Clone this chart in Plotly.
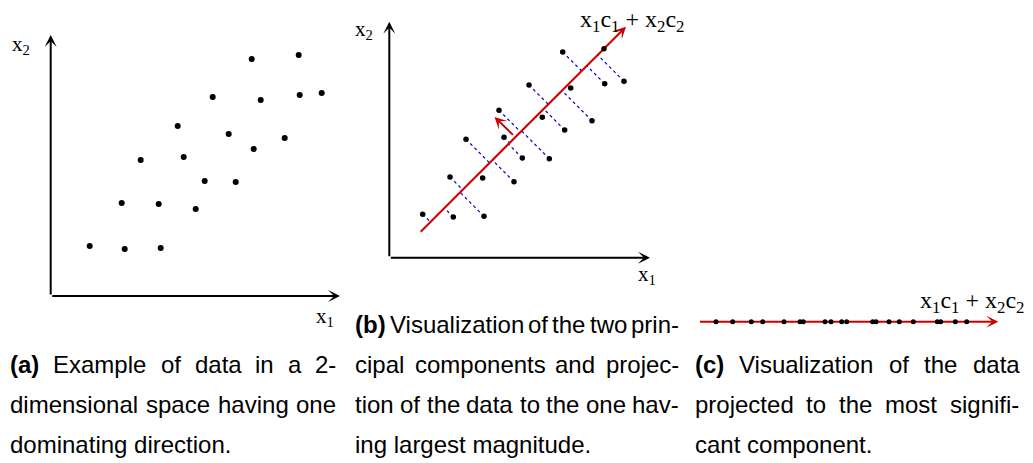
import math
import plotly.graph_objects as go

# ---------------- data ----------------
# Panel (a): 2-D samples (x1, x2), arbitrary units measured from the axes origin
a_x1 = [201, 248, 162, 210, 249, 271, 127, 178, 234, 203, 90, 133, 154, 185, 71, 108, 145, 39, 74, 110]
a_x2 = [237, 241, 199, 196, 201, 203, 170, 162, 158, 147, 136, 139, 115, 114, 93, 92, 87, 50, 47, 48]

# Panel (b): samples with the principal components
b_x1 = [33.4, 64, 94.7, 60.7, 93.4, 124.7, 76.7, 114.7, 133, 160, 109.7, 153, 175.4, 139.7, 181.4, 202.7, 173.4, 214.7, 215.4, 234.7]
b_x2 = [43.4, 40.7, 41.4, 80.7, 79.7, 76, 118.4, 120.4, 99.7, 99, 147.4, 140.4, 127.7, 172.7, 169.7, 137, 205.7, 209, 174, 176.4]
pc1_start = [31.4, 26.0]
pc1_end = [236.7, 231.0]
pc2_start = [125.2, 121.4]
pc2_end = [105.2, 140.7]

# Panel (c): positions along the most significant component
c_t = [16, 32.7, 51.3, 62.7, 84, 100, 103.3, 125, 131, 141.7, 146.7, 172.7, 176, 189, 199.3, 213.3, 237.3, 240.7, 255.3, 266.7]
c_axis_len = 298.3

# captions (lines as typeset; the last line of each is not justified)
caption_a = [["(a)", "Example", "of", "data", "in", "a", "2-"],
             ["dimensional", "space", "having", "one"],
             ["dominating", "direction."]]
caption_b = [["(b)", "Visualization", "of", "the", "two", "prin-"],
             ["cipal", "components", "and", "projec-"],
             ["tion", "of", "the", "data", "to", "the", "one", "hav-"],
             ["ing", "largest", "magnitude."]]
caption_c = [["(c)", "Visualization", "of", "the", "data"],
             ["projected", "to", "the", "most", "signifi-"],
             ["cant", "component."]]

# ---------------- styles ----------------
W, H = 1033, 463
RED = "#cc0000"
BLUE = "#0000cc"
SERIF = "Liberation Serif"
SANS = "Liberation Sans"

# panel origins in page pixels (layout only)
orig_a = (50.7, 296.0)
orig_b = (389.3, 257.7)
orig_c = (700.0, 321.7)

fig = go.Figure()

# ---------- panel (a) ----------
fig.add_trace(go.Scatter(x=a_x1, y=a_x2, mode="markers", xaxis="x", yaxis="y",
                         marker=dict(color="black", size=6), showlegend=False, hoverinfo="skip"))

# ---------- panel (b) ----------
ux = pc1_end[0] - pc1_start[0]
uy = pc1_end[1] - pc1_start[1]
un = math.hypot(ux, uy)
ux, uy = ux / un, uy / un
feet = []
lx, ly = [], []
for px, py in zip(b_x1, b_x2):
    t = (px - pc1_start[0]) * ux + (py - pc1_start[1]) * uy
    fx, fy = pc1_start[0] + t * ux, pc1_start[1] + t * uy
    feet.append((fx, fy, px, py))
    lx += [px, fx, None]
    ly += [py, fy, None]
fig.add_trace(go.Scatter(x=lx, y=ly, mode="lines", xaxis="x2", yaxis="y2",
                         line=dict(color=BLUE, width=1.2, dash="dot"), showlegend=False, hoverinfo="skip"))
fig.add_trace(go.Scatter(x=[pc1_start[0], pc1_end[0] - 4 * ux], y=[pc1_start[1], pc1_end[1] - 4 * uy],
                         mode="lines", xaxis="x2", yaxis="y2",
                         line=dict(color=RED, width=2), showlegend=False, hoverinfo="skip"))
fig.add_trace(go.Scatter(x=b_x1, y=b_x2, mode="markers", xaxis="x2", yaxis="y2",
                         marker=dict(color="black", size=5.5), showlegend=False, hoverinfo="skip"))

# ---------- panel (c) ----------
fig.add_trace(go.Scatter(x=[0, c_axis_len - 4], y=[0, 0], mode="lines", xaxis="x3", yaxis="y3",
                         line=dict(color=RED, width=2), showlegend=False, hoverinfo="skip"))
fig.add_trace(go.Scatter(x=c_t, y=[0] * len(c_t), mode="markers", xaxis="x3", yaxis="y3",
                         marker=dict(color="black", size=5), showlegend=False, hoverinfo="skip"))


def arrow(ref, tail, head, color, width, size, style=3):
    fig.add_annotation(x=head[0], y=head[1], ax=tail[0], ay=tail[1],
                       xref="x" + ref, yref="y" + ref, axref="x" + ref, ayref="y" + ref,
                       text="", showarrow=True, arrowhead=style, arrowsize=size,
                       arrowwidth=width, arrowcolor=color, standoff=0)


# axes arrows
arrow("", (0, 0), (0, orig_a[1] - 35), "black", 2, 1)
arrow("", (0, 0), (340 - orig_a[0], 0), "black", 2, 1)
arrow("2", (0, 0), (0, orig_b[1] - 21.7), "black", 2, 1)
arrow("2", (0, 0), (650 - orig_b[0], 0), "black", 2, 1)

# blue projection heads
for fx, fy, px, py in feet:
    d = math.hypot(px - fx, py - fy)
    if d > 3:
        tx = fx + (px - fx) / d * 3
        ty = fy + (py - fy) / d * 3
        arrow("2", (tx, ty), (fx, fy), BLUE, 1, 1, style=2)

# red component arrows
arrow("2", (pc1_end[0] - 8 * ux, pc1_end[1] - 8 * uy), tuple(pc1_end), RED, 2, 1)
arrow("2", tuple(pc2_start), tuple(pc2_end), RED, 2, 1)
arrow("3", (c_axis_len - 8, 0), (c_axis_len, 0), RED, 2, 1)


# ---------- text ----------
def ptext(text, x, y, size, family, xanchor="center", yanchor="middle"):
    fig.add_annotation(x=x / W, y=1 - y / H, xref="paper", yref="paper", text=text,
                       showarrow=False, xanchor=xanchor, yanchor=yanchor,
                       font=dict(family=family, size=size, color="black"),
                       borderpad=0, borderwidth=0)


ptext("x<sub>2</sub>", 21, 45, 21, SERIF)
ptext("x<sub>1</sub>", 325, 317, 21, SERIF)
ptext("x<sub>2</sub>", 364, 30, 21, SERIF)
ptext("x<sub>1</sub>", 647, 275, 21, SERIF)
ptext("x<sub>1</sub>c<sub>1</sub> + x<sub>2</sub>c<sub>2</sub>", 632, 21, 24, SERIF)
ptext("x<sub>1</sub>c<sub>1</sub> + x<sub>2</sub>c<sub>2</sub>", 972, 302, 24, SERIF)

# Helvetica/Arial advance widths (per 1000 em) for justification
REG = dict(a=556, b=556, c=500, d=556, e=556, f=278, g=556, h=556, i=222, j=222, k=500, l=222,
           m=833, n=556, o=556, p=556, q=556, r=333, s=500, t=278, u=556, v=500, w=722, x=500,
           y=500, z=500, E=667, V=667)
REG.update({"2": 556, "-": 333, ".": 278, " ": 278, "(": 333, ")": 333})
BOLD = {"(": 333, ")": 333, "a": 556, "b": 611, "c": 556}
CAP = 24


def wwidth(word, bold=False):
    tbl = BOLD if bold else REG
    return sum(tbl.get(ch, 556) for ch in word) * CAP / 1000.0


def set_caption(lines, left, right, first_base):
    for li, words in enumerate(lines):
        base = first_base + 40 * li
        yc = base - 8.4
        last = li == len(lines) - 1
        if last:
            ptext(" ".join(words), left, yc, CAP, SANS, xanchor="left")
            continue
        bolds = [li == 0 and wi == 0 for wi in range(len(words))]
        widths = [wwidth(w, b) for w, b in zip(words, bolds)]
        gap = (right - left - sum(widths)) / (len(words) - 1)
        x = left
        for w, b, wd in zip(words, bolds, widths):
            ptext("<b>%s</b>" % w if b else w, x, yc, CAP, SANS, xanchor="left")
            x += wd + gap


set_caption(caption_a, 10, 336.5, 373)
set_caption(caption_b, 355, 679, 333)
set_caption(caption_c, 695, 1019.5, 373)

ax_common = dict(visible=False, domain=[0, 1], fixedrange=True)
fig.update_layout(
    width=W, height=H,
    margin=dict(l=0, r=0, t=0, b=0),
    paper_bgcolor="white", plot_bgcolor="rgba(0,0,0,0)",
    showlegend=False,
    xaxis=dict(range=[-orig_a[0], W - orig_a[0]], anchor="y", **ax_common),
    yaxis=dict(range=[orig_a[1] - H, orig_a[1]], anchor="x", **ax_common),
    xaxis2=dict(range=[-orig_b[0], W - orig_b[0]], anchor="y2", **ax_common),
    yaxis2=dict(range=[orig_b[1] - H, orig_b[1]], anchor="x2", **ax_common),
    xaxis3=dict(range=[-orig_c[0], W - orig_c[0]], anchor="y3", **ax_common),
    yaxis3=dict(range=[orig_c[1] - H, orig_c[1]], anchor="x3", **ax_common),
)

fig.write_html("out.html")
